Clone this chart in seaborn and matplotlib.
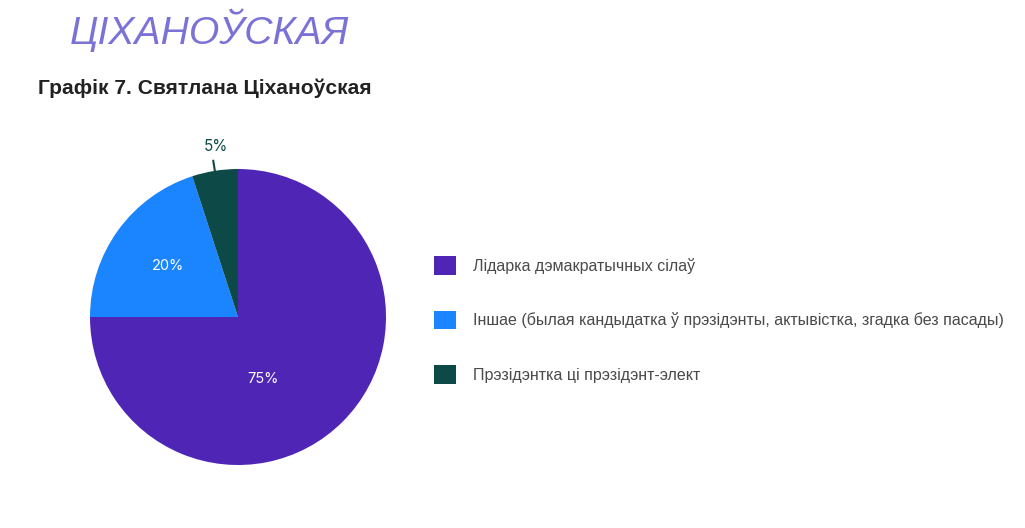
import numpy as np
import seaborn as sns
import matplotlib.pyplot as plt
from matplotlib.patches import Patch

# data
categories = ['Лідарка дэмакратычных сілаў',
              'Іншае (былая кандыдатка ў прэзідэнты, актывістка, згадка без пасады)',
              'Прэзідэнтка ці прэзідэнт-элект']
shares = [75, 20, 5]
colors = ['#4f25b6', '#1a85ff', '#0d4a47']
header = 'ЦІХАНОЎСКАЯ'
chart_title = 'Графік 7. Святлана Ціханоўская'

sns.set_theme(style='white')
plt.rcParams['font.family'] = ['Liberation Sans', 'DejaVu Sans']

fig = plt.figure(figsize=(10.25, 5.28), dpi=100)
fig.patch.set_facecolor('white')

# pie axes, positioned so the circle sits like in the reference
ax = fig.add_axes([0.0878, 0.1193, 0.2888, 0.5606])
wedges, _ = ax.pie(shares, colors=colors, startangle=90, counterclock=False,
                   radius=1.0, wedgeprops=dict(linewidth=0))
ax.set_xlim(-1, 1)
ax.set_ylim(-1, 1)
ax.set_aspect('auto')
ax.axis('off')

# percent labels: distance from centre and angle tweak per slice
label_r = [0.45, 0.585, 1.16]
label_shift = [-23, 0, -1.5]
for w, val, r, sh in zip(wedges, shares, label_r, label_shift):
    mid = np.deg2rad((w.theta1 + w.theta2) / 2 + sh)
    x, y = r * np.cos(mid), r * np.sin(mid)
    inside = r < 1
    ax.text(x, y, f'{val}%', ha='center', va='center', fontsize=10.5 if inside else 11,
            family=['Inter', 'DejaVu Sans'],
            color='white' if inside else colors[2])
    if not inside:
        m = np.deg2rad((w.theta1 + w.theta2) / 2)
        ax.plot([np.cos(m) * 1.0, np.cos(m) * 1.07], [np.sin(m) * 1.0, np.sin(m) * 1.07],
                color=colors[2], lw=1.5, clip_on=False)

# legend
handles = [Patch(facecolor=c, edgecolor='none') for c in colors]
fig.legend(handles, categories, loc='center left', bbox_to_anchor=(0.409, 0.394),
           frameon=False, fontsize=11.55, labelcolor='#4a4a4a',
           handlelength=1.38, handleheight=1.38, handletextpad=1.1, labelspacing=2.25)

fig.text(0.068, 0.943, header, fontsize=28.2, style='italic', color='#7b72d8',
         va='center', ha='left')
fig.text(0.037, 0.832, chart_title, fontsize=15.1, weight='bold', color='#222222',
         va='center', ha='left')

fig.savefig('out.png', dpi=100, facecolor='white')
